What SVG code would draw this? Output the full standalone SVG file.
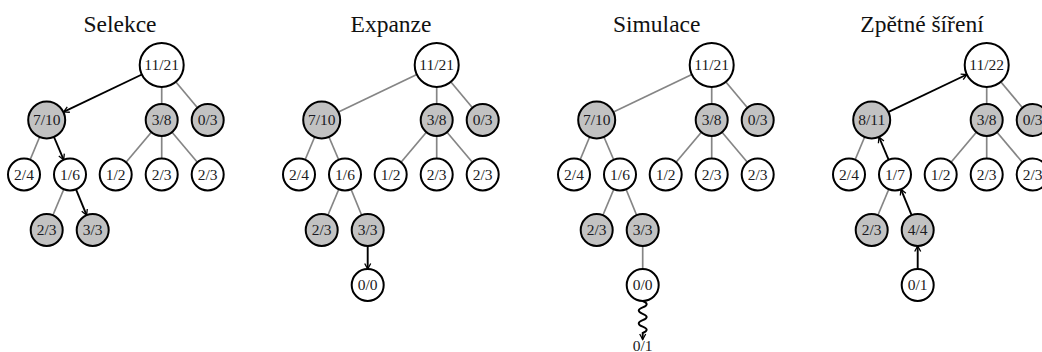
<svg xmlns="http://www.w3.org/2000/svg" width="1042" height="352" viewBox="0 0 1042 352">
  <style>
    .title { font-family: "Liberation Serif", "Times New Roman", serif; font-size: 23.5px; fill: #111; text-anchor: middle; }
    .node circle { stroke: #000; stroke-width: 2; }
    .node text { font-family: "Liberation Serif", "Times New Roman", serif; font-size: 15.5px; fill: #1a1a22; text-anchor: middle; }
    .leaf circle { fill: #ffffff; }
    .win circle { fill: #c2c2c2; }
    .edge { stroke: #858585; stroke-width: 1.7; fill: none; }
    .path { stroke: #000000; stroke-width: 1.9; fill: none; marker-end: url(#arrow); }
  </style>
  <defs>
    <marker id="arrow" markerUnits="userSpaceOnUse" viewBox="-7 -4 8 8" refX="0" refY="0" markerWidth="8" markerHeight="8" orient="auto">
      <path d="M-5.5,-3 L0,0 L-5.5,3" fill="none" stroke="#000" stroke-width="1.3"/>
    </marker>
  </defs>
  <rect width="1042" height="352" fill="#ffffff"/>

  <!-- Selekce -->
  <g id="selekce" transform="translate(0,0)">
    <text class="title" x="120" y="32">Selekce</text>
    <g id="selekce-connectors">
      <line class="edge" x1="161.7" y1="65" x2="161.7" y2="120"/>
      <line class="edge" x1="161.7" y1="65" x2="207.7" y2="120"/>
      <line class="edge" x1="46.7" y1="120" x2="24" y2="174.5"/>
      <line class="edge" x1="161.7" y1="120" x2="115.7" y2="174.5"/>
      <line class="edge" x1="161.7" y1="120" x2="161.7" y2="174.5"/>
      <line class="edge" x1="161.7" y1="120" x2="207.7" y2="174.5"/>
      <line class="edge" x1="70" y1="174.5" x2="46.7" y2="230"/>
      <line class="path" x1="141.9" y1="74.5" x2="63.6" y2="111.9"/>
      <line class="path" x1="54" y1="137" x2="63.7" y2="159.8"/>
      <line class="path" x1="76" y1="189.3" x2="86.6" y2="215.2"/>
    </g>
    <g id="selekce-root" class="node leaf"><circle cx="161.7" cy="65" r="22"/><text x="161.7" y="70.3">11/21</text></g>
    <g id="selekce-a" class="node win"><circle cx="46.7" cy="120" r="18.5"/><text x="46.7" y="125.3">7/10</text></g>
    <g id="selekce-b" class="node win"><circle cx="161.7" cy="120" r="16"/><text x="161.7" y="125.3">3/8</text></g>
    <g id="selekce-c" class="node win"><circle cx="207.7" cy="120" r="16"/><text x="207.7" y="125.3">0/3</text></g>
    <g id="selekce-d" class="node leaf"><circle cx="24" cy="174.5" r="16"/><text x="24" y="179.8">2/4</text></g>
    <g id="selekce-e" class="node leaf"><circle cx="70" cy="174.5" r="16"/><text x="70" y="179.8">1/6</text></g>
    <g id="selekce-f" class="node leaf"><circle cx="115.7" cy="174.5" r="16"/><text x="115.7" y="179.8">1/2</text></g>
    <g id="selekce-g" class="node leaf"><circle cx="161.7" cy="174.5" r="16"/><text x="161.7" y="179.8">2/3</text></g>
    <g id="selekce-h" class="node leaf"><circle cx="207.7" cy="174.5" r="16"/><text x="207.7" y="179.8">2/3</text></g>
    <g id="selekce-i" class="node win"><circle cx="46.7" cy="230" r="16"/><text x="46.7" y="235.3">2/3</text></g>
    <g id="selekce-j" class="node win"><circle cx="92.7" cy="230" r="16"/><text x="92.7" y="235.3">3/3</text></g>
  </g>

  <!-- Expanze -->
  <g id="expanze" transform="translate(275,0)">
    <text class="title" x="116" y="32">Expanze</text>
    <g id="expanze-connectors">
      <line class="edge" x1="161.7" y1="65" x2="46.7" y2="120"/>
      <line class="edge" x1="161.7" y1="65" x2="161.7" y2="120"/>
      <line class="edge" x1="161.7" y1="65" x2="207.7" y2="120"/>
      <line class="edge" x1="46.7" y1="120" x2="24" y2="174.5"/>
      <line class="edge" x1="46.7" y1="120" x2="70" y2="174.5"/>
      <line class="edge" x1="161.7" y1="120" x2="115.7" y2="174.5"/>
      <line class="edge" x1="161.7" y1="120" x2="161.7" y2="174.5"/>
      <line class="edge" x1="161.7" y1="120" x2="207.7" y2="174.5"/>
      <line class="edge" x1="70" y1="174.5" x2="46.7" y2="230"/>
      <line class="edge" x1="70" y1="174.5" x2="92.7" y2="230"/>
      <line class="path" x1="92.7" y1="246" x2="92.7" y2="269"/>
    </g>
    <g id="expanze-root" class="node leaf"><circle cx="161.7" cy="65" r="22"/><text x="161.7" y="70.3">11/21</text></g>
    <g id="expanze-a" class="node win"><circle cx="46.7" cy="120" r="18.5"/><text x="46.7" y="125.3">7/10</text></g>
    <g id="expanze-b" class="node win"><circle cx="161.7" cy="120" r="16"/><text x="161.7" y="125.3">3/8</text></g>
    <g id="expanze-c" class="node win"><circle cx="207.7" cy="120" r="16"/><text x="207.7" y="125.3">0/3</text></g>
    <g id="expanze-d" class="node leaf"><circle cx="24" cy="174.5" r="16"/><text x="24" y="179.8">2/4</text></g>
    <g id="expanze-e" class="node leaf"><circle cx="70" cy="174.5" r="16"/><text x="70" y="179.8">1/6</text></g>
    <g id="expanze-f" class="node leaf"><circle cx="115.7" cy="174.5" r="16"/><text x="115.7" y="179.8">1/2</text></g>
    <g id="expanze-g" class="node leaf"><circle cx="161.7" cy="174.5" r="16"/><text x="161.7" y="179.8">2/3</text></g>
    <g id="expanze-h" class="node leaf"><circle cx="207.7" cy="174.5" r="16"/><text x="207.7" y="179.8">2/3</text></g>
    <g id="expanze-i" class="node win"><circle cx="46.7" cy="230" r="16"/><text x="46.7" y="235.3">2/3</text></g>
    <g id="expanze-j" class="node win"><circle cx="92.7" cy="230" r="16"/><text x="92.7" y="235.3">3/3</text></g>
    <g id="expanze-k" class="node leaf"><circle cx="92.7" cy="285" r="16"/><text x="92.7" y="290.3">0/0</text></g>
  </g>

  <!-- Simulace -->
  <g id="simulace" transform="translate(550,0)">
    <text class="title" x="106.7" y="32">Simulace</text>
    <g id="simulace-connectors">
      <line class="edge" x1="161.7" y1="65" x2="46.7" y2="120"/>
      <line class="edge" x1="161.7" y1="65" x2="161.7" y2="120"/>
      <line class="edge" x1="161.7" y1="65" x2="207.7" y2="120"/>
      <line class="edge" x1="46.7" y1="120" x2="24" y2="174.5"/>
      <line class="edge" x1="46.7" y1="120" x2="70" y2="174.5"/>
      <line class="edge" x1="161.7" y1="120" x2="115.7" y2="174.5"/>
      <line class="edge" x1="161.7" y1="120" x2="161.7" y2="174.5"/>
      <line class="edge" x1="161.7" y1="120" x2="207.7" y2="174.5"/>
      <line class="edge" x1="70" y1="174.5" x2="46.7" y2="230"/>
      <line class="edge" x1="70" y1="174.5" x2="92.7" y2="230"/>
      <line class="edge" x1="92.7" y1="230" x2="92.7" y2="285"/>
      <!-- random playout -->
      <path class="path" stroke-width="1.5" d="M92.7,301 q8,3.2 0,6.4 t0,6.4 t0,6.4 t0,6.4 t0,6.4 L92.7,339.5"/>
    </g>
    <g id="simulace-root" class="node leaf"><circle cx="161.7" cy="65" r="22"/><text x="161.7" y="70.3">11/21</text></g>
    <g id="simulace-a" class="node win"><circle cx="46.7" cy="120" r="18.5"/><text x="46.7" y="125.3">7/10</text></g>
    <g id="simulace-b" class="node win"><circle cx="161.7" cy="120" r="16"/><text x="161.7" y="125.3">3/8</text></g>
    <g id="simulace-c" class="node win"><circle cx="207.7" cy="120" r="16"/><text x="207.7" y="125.3">0/3</text></g>
    <g id="simulace-d" class="node leaf"><circle cx="24" cy="174.5" r="16"/><text x="24" y="179.8">2/4</text></g>
    <g id="simulace-e" class="node leaf"><circle cx="70" cy="174.5" r="16"/><text x="70" y="179.8">1/6</text></g>
    <g id="simulace-f" class="node leaf"><circle cx="115.7" cy="174.5" r="16"/><text x="115.7" y="179.8">1/2</text></g>
    <g id="simulace-g" class="node leaf"><circle cx="161.7" cy="174.5" r="16"/><text x="161.7" y="179.8">2/3</text></g>
    <g id="simulace-h" class="node leaf"><circle cx="207.7" cy="174.5" r="16"/><text x="207.7" y="179.8">2/3</text></g>
    <g id="simulace-i" class="node win"><circle cx="46.7" cy="230" r="16"/><text x="46.7" y="235.3">2/3</text></g>
    <g id="simulace-j" class="node win"><circle cx="92.7" cy="230" r="16"/><text x="92.7" y="235.3">3/3</text></g>
    <g id="simulace-k" class="node leaf"><circle cx="92.7" cy="285" r="16"/><text x="92.7" y="290.3">0/0</text></g>
    <g id="simulace-result" class="node"><text x="92.7" y="350.5" font-size="12">0/1</text></g>
  </g>

  <!-- Zpětné šíření -->
  <g id="zpetne-sireni" transform="translate(825,0)">
    <text class="title" x="97" y="32">Zpětné šíření</text>
    <g id="zpetne-connectors">
      <line class="edge" x1="161.7" y1="65" x2="161.7" y2="120"/>
      <line class="edge" x1="161.7" y1="65" x2="207.7" y2="120"/>
      <line class="edge" x1="46.7" y1="120" x2="24" y2="174.5"/>
      <line class="edge" x1="161.7" y1="120" x2="115.7" y2="174.5"/>
      <line class="edge" x1="161.7" y1="120" x2="161.7" y2="174.5"/>
      <line class="edge" x1="161.7" y1="120" x2="207.7" y2="174.5"/>
      <line class="edge" x1="70" y1="174.5" x2="46.7" y2="230"/>
      <line class="path" x1="63.6" y1="111.9" x2="141.9" y2="74.5"/>
      <line class="path" x1="63.7" y1="159.8" x2="54" y2="137"/>
      <line class="path" x1="86.6" y1="215.2" x2="76" y2="189.3"/>
      <line class="path" x1="92.7" y1="269" x2="92.7" y2="246"/>
    </g>
    <g id="zpetne-root" class="node leaf"><circle cx="161.7" cy="65" r="22"/><text x="161.7" y="70.3">11/22</text></g>
    <g id="zpetne-a" class="node win"><circle cx="46.7" cy="120" r="18.5"/><text x="46.7" y="125.3">8/11</text></g>
    <g id="zpetne-b" class="node win"><circle cx="161.7" cy="120" r="16"/><text x="161.7" y="125.3">3/8</text></g>
    <g id="zpetne-c" class="node win"><circle cx="207.7" cy="120" r="16"/><text x="207.7" y="125.3">0/3</text></g>
    <g id="zpetne-d" class="node leaf"><circle cx="24" cy="174.5" r="16"/><text x="24" y="179.8">2/4</text></g>
    <g id="zpetne-e" class="node leaf"><circle cx="70" cy="174.5" r="16"/><text x="70" y="179.8">1/7</text></g>
    <g id="zpetne-f" class="node leaf"><circle cx="115.7" cy="174.5" r="16"/><text x="115.7" y="179.8">1/2</text></g>
    <g id="zpetne-g" class="node leaf"><circle cx="161.7" cy="174.5" r="16"/><text x="161.7" y="179.8">2/3</text></g>
    <g id="zpetne-h" class="node leaf"><circle cx="207.7" cy="174.5" r="16"/><text x="207.7" y="179.8">2/3</text></g>
    <g id="zpetne-i" class="node win"><circle cx="46.7" cy="230" r="16"/><text x="46.7" y="235.3">2/3</text></g>
    <g id="zpetne-j" class="node win"><circle cx="92.7" cy="230" r="16"/><text x="92.7" y="235.3">4/4</text></g>
    <g id="zpetne-k" class="node leaf"><circle cx="92.7" cy="285" r="16"/><text x="92.7" y="290.3">0/1</text></g>
  </g>
</svg>
